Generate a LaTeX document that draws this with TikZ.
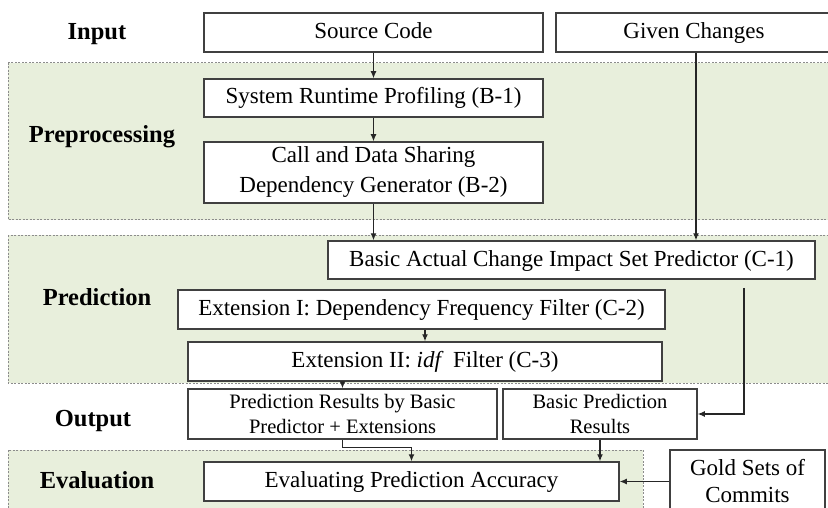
\documentclass[tikz,border=0pt]{standalone}
\usepackage{fontspec}
\setmainfont{Liberation Serif}
\usetikzlibrary{arrows.meta}
\definecolor{regfill}{HTML}{E8EFDC}
\definecolor{regdash}{HTML}{8C8C8C}
\definecolor{boxline}{HTML}{404040}
\begin{document}
\begin{tikzpicture}[x=1pt,y=-1pt,
  region/.style={draw=regdash, dashed, dash pattern=on 2pt off 1.5pt, line width=1pt, fill=regfill},
  box/.style={draw=boxline, line width=1.5pt, fill=white, inner sep=0pt, align=center, font=\fontsize{23}{30}\selectfont},
  smallbox/.style={box, font=\fontsize{20.5}{25}\selectfont},
  lab/.style={font=\fontsize{24.5}{28}\selectfont\bfseries},
  arr/.style={draw=black!85, line width=1.2pt, -{Latex[length=7pt,width=6pt]}}]
\useasboundingbox (0,0) rectangle (828,508);
\fill[white] (0,0) rectangle (828,508);
% regions
\draw[region] (8,63) rectangle (832,220);
\draw[region] (8,235) rectangle (832,383);
\draw[region] (8,450) rectangle (643,515);
% labels
\node[lab] (lin) at (97,34) {\strut Input};
\node[lab] (lpre) at (102,137) {\strut Preprocessing};
\node[lab] (lpred) at (97,300) {\strut Prediction};
\node[lab] (lout) at (93,421) {\strut Output};
\node[lab] (leval) at (97,483) {\strut Evaluation};
% boxes
\node[box, minimum width=339, minimum height=39] (src) at (373.5,32.5) {\strut Source Code};
\node[box, minimum width=276, minimum height=39] (gc) at (694,32.5) {\strut Given Changes};
\node[box, minimum width=339, minimum height=38] (srp) at (373.5,98) {\strut System Runtime Profiling (B-1)};
\node[box, minimum width=339, minimum height=61] (cds) at (373.5,172.5) {Call and Data Sharing\\Dependency Generator (B-2)};
\node[box, minimum width=487, minimum height=38] (bac) at (571.5,260) {\strut Basic Actual Change Impact Set Predictor (C-1)};
\node[box, minimum width=487, minimum height=39] (ext1) at (421.5,309.5) {\strut Extension I: Dependency Frequency Filter (C-2)};
\node[box, minimum width=474, minimum height=39] (ext2) at (425,361.5) {\strut Extension II: \textit{idf}\, Filter (C-3)};
\node[smallbox, minimum width=309, minimum height=50] (pr) at (342.5,414) {Prediction Results by Basic\\Predictor + Extensions};
\node[smallbox, minimum width=194, minimum height=50] (bpr) at (600,414) {Basic Prediction\\Results};
\node[box, minimum width=415, minimum height=39] (eval) at (411.5,481.5) {\strut Evaluating Prediction Accuracy};
\node[box, minimum width=155, minimum height=62, font=\fontsize{23}{27}\selectfont] (gold) at (747.5,481) {Gold Sets of\\Commits};
% connectors
\draw[arr] (src.south) -- (srp.north);
\draw[arr] (srp.south) -- (cds.north);
\draw[arr] (cds.south) -- (cds.south |- bac.north);
\draw[arr] ([xshift=2pt]gc.south) -- ([xshift=2pt]gc.south |- bac.north);
\draw[arr] (ext2.north |- ext1.south) -- (ext2.north);
\draw[arr] (pr.north |- ext2.south) -- (pr.north);
\draw[arr] ([xshift=172.5pt,yshift=-8pt]bac.south) |- (bpr.east);
\draw[arr] (pr.south) -- ++(0,8) -| (eval.north);
\draw[arr] (bpr.south) -- (bpr.south |- eval.north);
\draw[arr] (gold.west |- eval.east) -- (eval.east);
\end{tikzpicture}
\end{document}
